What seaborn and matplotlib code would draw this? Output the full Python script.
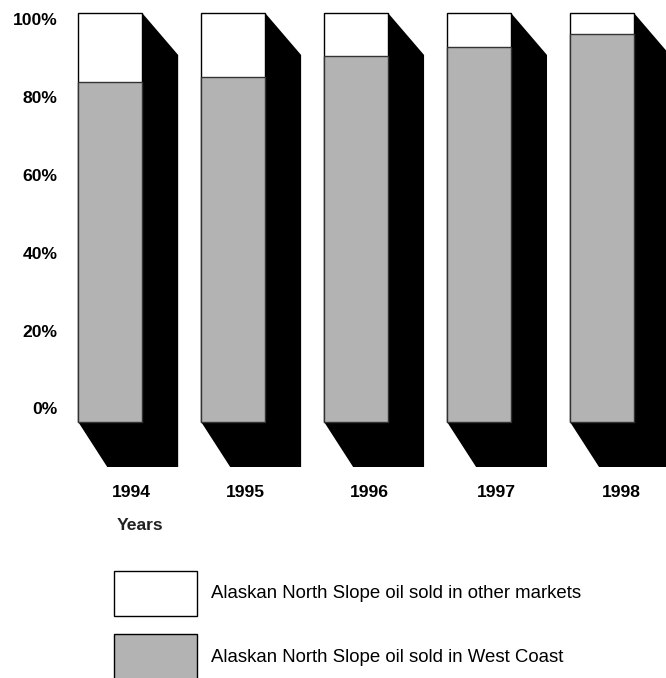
import numpy as np
import pandas as pd
import matplotlib
matplotlib.use("Agg")
import matplotlib.pyplot as plt
from matplotlib.patches import Rectangle
import seaborn as sns

# data (percent of ANS oil)
years = ["1994", "1995", "1996", "1997", "1998"]
west_coast = [83.1, 84.4, 89.5, 91.7, 94.9]
other_markets = [100 - v for v in west_coast]
ytick_labels = ["0%", "20%", "40%", "60%", "80%", "100%"]
legend_labels = ["Alaskan North Slope oil sold in other markets",
                 "Alaskan North Slope oil sold in West Coast"]

df = pd.DataFrame({"year": years, "west": west_coast, "other": other_markets})
df["total"] = df["west"] + df["other"]

sns.set_style("white")
plt.rcParams["font.family"] = ["Liberation Sans", "DejaVu Sans"]

W, H = 666, 678
fig = plt.figure(figsize=(W / 100, H / 100), dpi=100)

# pixel geometry of the plotting area
px_x = 122.95          # pixels per category step
px_y = 4.09            # pixels per percent
x0_px, y0_px = 110.2, 422.0   # pixel of (first bar centre, 0%)
L, R, T, B = 62, 666, 5, 475
ax = fig.add_axes([L / W, (H - B) / H, (R - L) / W, (B - T) / H])

gray = "#b3b3b3"
bw = 0.52
sns.barplot(data=df, x="year", y="total", color="white", edgecolor="black",
            linewidth=1.0, width=bw, saturation=1, ax=ax, zorder=3)
sns.barplot(data=df, x="year", y="west", color=gray, edgecolor="#333333",
            linewidth=1.0, width=bw, saturation=1, ax=ax, zorder=4)

ax.set_xlim((L - x0_px) / px_x, (R - x0_px) / px_x)
ax.set_ylim((y0_px - B) / px_y, (y0_px - T) / px_y)

# black extruded shadow behind each bar
dx_top, dy_top = 36 / px_x, 42 / px_y
dx_bl, dy_bot = 29 / px_x, 45 / px_y
for i, tot in enumerate(df["total"]):
    xl, xr = i - bw / 2, i + bw / 2
    verts = [(xr, tot), (xr + dx_top, tot - dy_top), (xr + dx_top, -dy_bot),
             (xl + dx_bl, -dy_bot), (xl, 0)]
    ax.fill(*zip(*verts), color="black", lw=0, zorder=2)

for s in ax.spines.values():
    s.set_visible(False)

fs = 12.6
# y tick labels sit at their own rows on the image
ytick_rows = [408, 331, 253, 175, 97, 19]
ax.set_yticks([(y0_px - r) / px_y for r in ytick_rows])
ax.set_yticklabels(ytick_labels, fontsize=fs, fontweight="bold", color="black")
ax.tick_params(axis="y", length=0, pad=3)

# year labels sit a little right of the bars, at their own columns
xtick_cols = [131.7, 245, 369.7, 496, 621]
ax.set_xticks([(c - x0_px) / px_x for c in xtick_cols])
ax.set_xticklabels(years, fontsize=fs, fontweight="bold", color="black")
ax.tick_params(axis="x", length=0, pad=7.3)
ax.set_xlabel("")
ax.set_ylabel("")

fig.text(139.7 / W, 1 - 525 / H, "Years", ha="center", va="center",
         fontsize=fs, fontweight="bold", color="#222222")

# legend
for (top, bot, fc, ty), lab in zip([(571, 616, "white", 593.5),
                                    (634, 692, gray, 657)], legend_labels):
    fig.add_artist(Rectangle((114 / W, 1 - bot / H), 83 / W, (bot - top) / H,
                             facecolor=fc, edgecolor="black", lw=1.0,
                             transform=fig.transFigure))
    fig.text(211 / W, 1 - ty / H, lab, ha="left", va="center", fontsize=13.4,
             color="black")

fig.savefig("out.png", dpi=100)
